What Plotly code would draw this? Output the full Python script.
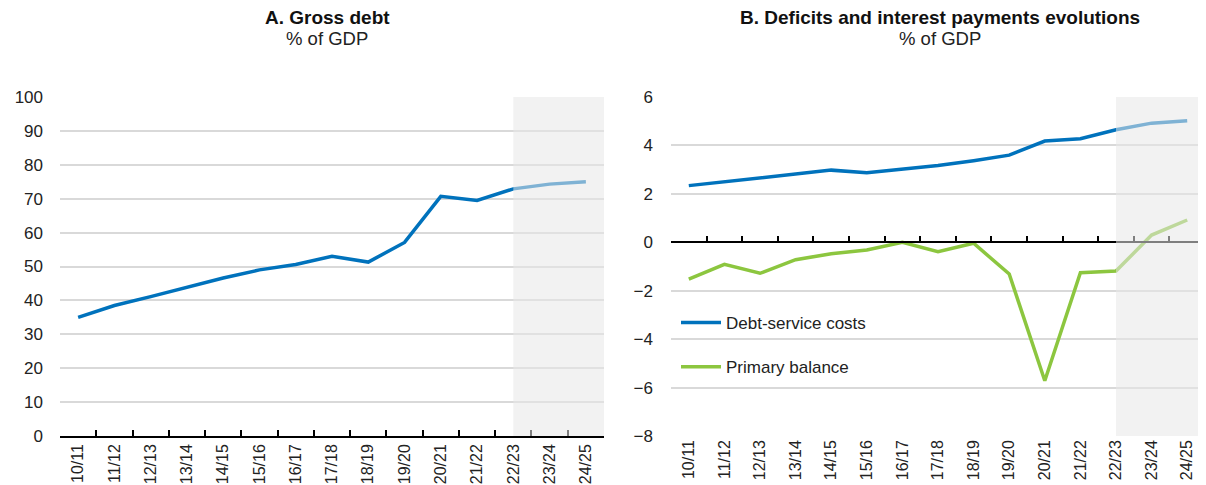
import plotly.graph_objects as go

years = ["10/11", "11/12", "12/13", "13/14", "14/15", "15/16", "16/17", "17/18",
         "18/19", "19/20", "20/21", "21/22", "22/23", "23/24", "24/25"]
gross_debt = [35.0, 38.5, 41.1, 43.9, 46.6, 49.0, 50.6, 53.0, 51.3, 57.1,
              70.7, 69.5, 72.9, 74.3, 75.0]
debt_service = [2.34, 2.50, 2.68, 2.81, 2.98, 2.87, 3.03, 3.17, 3.37, 3.60,
                4.18, 4.28, 4.65, 4.92, 5.02]
primary_balance = [-1.52, -0.91, -1.28, -0.72, -0.47, -0.32, 0.0, -0.39, -0.04, -1.31,
                   -5.72, -1.26, -1.19, 0.30, 0.92]
projection_start = "22/23"

BLUE = "#0072BC"
GREEN = "#8CC63F"
GRID = "#d9d9d9"
SHADE = "rgba(231,231,231,0.55)"
FONT = "Liberation Sans, Arial"

OFF = 8  # page body margin in the browser
W, H = 1198 - OFF, 485


def px_x(x):
    return (x - OFF) / W


def px_y(y):
    return 1 - (y - OFF) / H


Y0, Y1 = px_y(436), px_y(97)
CAT_B = 35.6

fig = go.Figure()

fig.add_trace(go.Scatter(x=years, y=gross_debt, mode="lines", xaxis="x", yaxis="y",
                         line=dict(color=BLUE, width=3.5), showlegend=False))
fig.add_trace(go.Scatter(x=years, y=debt_service, mode="lines", xaxis="x2", yaxis="y2",
                         name="Debt-service costs", legendgroup="a",
                         line=dict(color=BLUE, width=3.5)))
fig.add_trace(go.Scatter(x=years, y=primary_balance, mode="lines", xaxis="x2", yaxis="y2",
                         name="Primary balance", legendgroup="b",
                         line=dict(color=GREEN, width=3.5)))
# invisible trace so the zero-line tick axis of panel B gets its categories
fig.add_trace(go.Scatter(x=years, y=debt_service, mode="lines", xaxis="x3", yaxis="y2",
                         line=dict(width=0), hoverinfo="skip", showlegend=False))

xa_dom = [px_x(60), px_x(604)]
xb_dom = [px_x(671), 1.0]
b_right = -0.5 + (W + OFF - 671) / CAT_B

common_x = dict(type="category", categoryarray=years, tickson="boundaries",
                ticks="inside", ticklen=6, tickwidth=1.5, tickcolor="black",
                tickangle=-90, tickfont=dict(size=16, color="#222"),
                showgrid=False, zeroline=False, automargin=False)

fig.update_layout(
    template="none",
    width=W, height=H,
    margin=dict(l=0, r=0, t=0, b=0, pad=0),
    plot_bgcolor="white", paper_bgcolor="white",
    font=dict(family=FONT, color="#222"),
    xaxis=dict(common_x, domain=xa_dom, anchor="y", range=[-0.5, 14.5],
               showline=True, linecolor="black", linewidth=1.5),
    yaxis=dict(domain=[Y0, Y1], anchor="x", range=[0, 100], dtick=10,
               gridcolor=GRID, gridwidth=1.5, zeroline=False, showline=False,
               ticks="", tickfont=dict(size=17), ticklabelstandoff=16, automargin=False),
    xaxis2=dict(common_x, domain=xb_dom, anchor="y2", range=[-0.5, b_right],
                ticks="", showline=False),
    xaxis3=dict(common_x, domain=xb_dom, anchor="free", overlaying="x2",
                position=Y0 + (8 / 14) * (Y1 - Y0), range=[-0.5, b_right],
                showticklabels=False, showline=True, linecolor="black", linewidth=1.5),
    yaxis2=dict(domain=[Y0, Y1], anchor="x2", range=[-8, 6], dtick=2,
                gridcolor=GRID, gridwidth=1.5, zeroline=False, showline=False,
                ticks="", tickfont=dict(size=17), ticklabelstandoff=17, automargin=False),
    legend=dict(x=px_x(676), y=px_y(305), xanchor="left", yanchor="top",
                bgcolor="rgba(0,0,0,0)", font=dict(size=17),
                tracegroupgap=19, itemwidth=40),
)

# projection shading (drawn on top, which also fades the projected lines)
fig.add_shape(type="rect", xref="x", yref="y domain", x0=projection_start, x1=14.5,
              y0=0, y1=1, fillcolor=SHADE, line_width=0, layer="above")
fig.add_shape(type="rect", xref="x2", yref="y2 domain", x0=projection_start, x1=b_right,
              y0=0, y1=1, fillcolor=SHADE, line_width=0, layer="above")

titles = [("A. Gross debt", 327), ("B. Deficits and interest payments evolutions", 940)]
for text, xc in titles:
    fig.add_annotation(text=f"<b>{text}</b>", x=px_x(xc), y=px_y(17), xref="paper", yref="paper",
                       xanchor="center", yanchor="middle",
                       showarrow=False, font=dict(size=19, color="#111"))
    fig.add_annotation(text="% of GDP", x=px_x(xc), y=px_y(38), xref="paper", yref="paper",
                       xanchor="center", yanchor="middle",
                       showarrow=False, font=dict(size=18.5, color="#222"))

fig.write_html("out.html")
